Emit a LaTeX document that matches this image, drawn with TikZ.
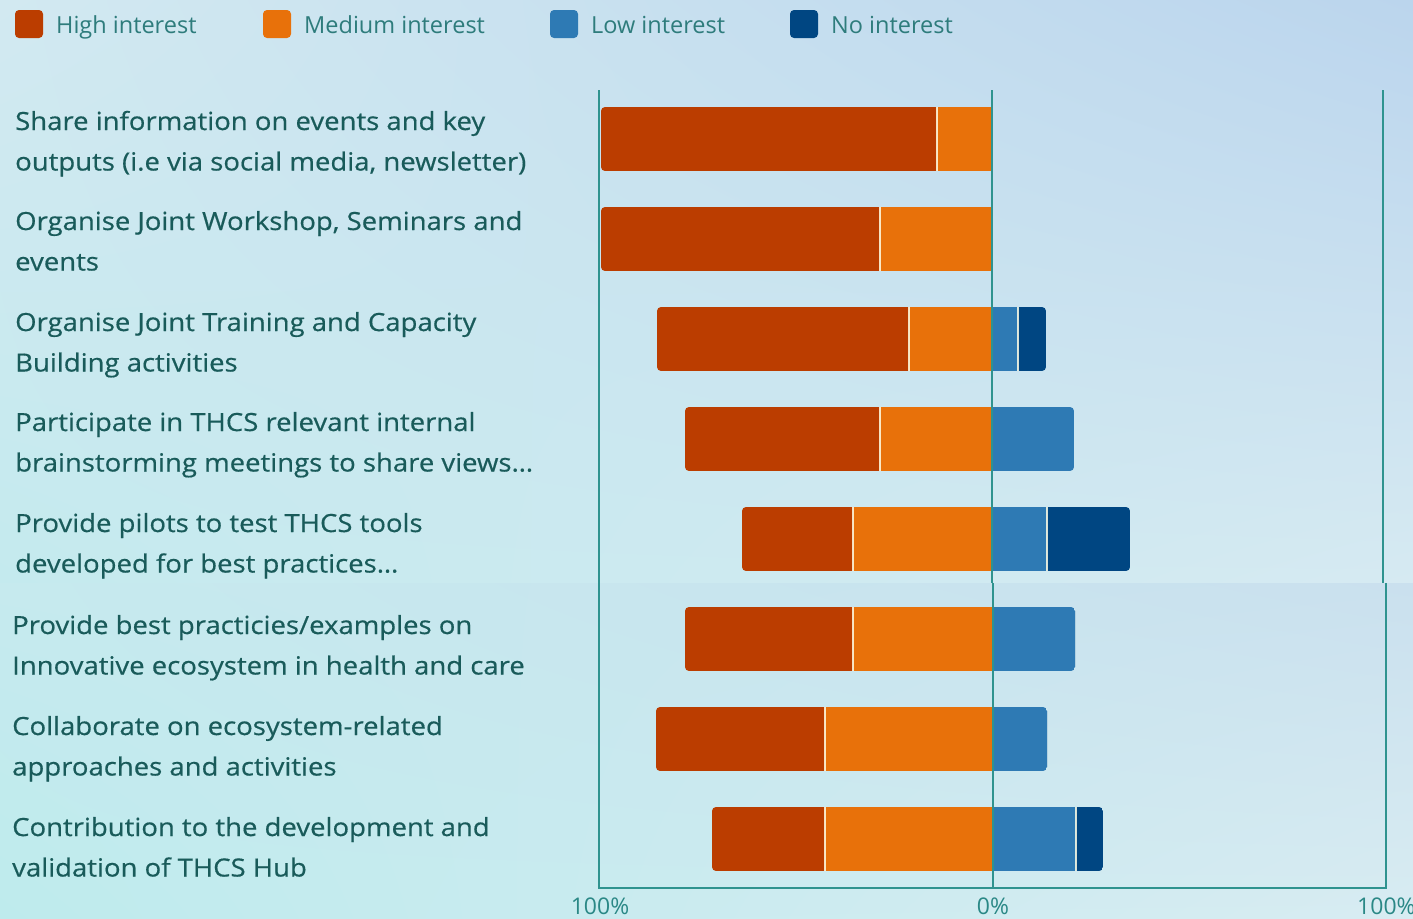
\documentclass[tikz,border=0pt]{standalone}
\usepackage{fontspec}
\usetikzlibrary{shadings}
\setmainfont{Open Sans}
\newfontfamily\lblfont{Open Sans}[FakeStretch=1.1,FakeBold=0.5]
\definecolor{hicol}{HTML}{BB3D00}
\definecolor{medcol}{HTML}{E8710A}
\definecolor{lowcol}{HTML}{2E7AB4}
\definecolor{nocol}{HTML}{004682}
\definecolor{axiscol}{HTML}{2F938F}
\definecolor{labcol}{HTML}{195B5A}
\definecolor{legcol}{HTML}{2E7C7C}
\definecolor{tickcol}{HTML}{2A8886}
\definecolor{bgA}{RGB}{210,233,241}
\definecolor{bgB}{RGB}{187,213,237}
\definecolor{bgC}{RGB}{196,234,238}
\definecolor{bgD}{RGB}{214,234,242}
\definecolor{bgE}{RGB}{198,234,238}
\definecolor{bgF}{RGB}{202,224,238}
\definecolor{bgG}{RGB}{190,235,237}
\definecolor{bgH}{RGB}{216,236,242}
\newcommand\lbltwo[2]{\vtop{\baselineskip=40.5pt\hbox{#1}\hbox{#2}}}
\newcommand\hbarrow[6]{%
  \pgfmathsetmacro\clipr{(#6>#4)?#6:#4+12}%
  \begin{scope}
    \clip[rounded corners=4] (#2,#1) rectangle (\clipr,#1+64);
    \fill[hicol] (#2,#1) rectangle (#3,#1+64);
    \fill[medcol] (#3,#1) rectangle (#4,#1+64);
    \fill[lowcol] (#4,#1) rectangle (#5,#1+64);
    \fill[nocol] (#5,#1) rectangle (#6,#1+64);
  \end{scope}
  \draw[sepline] (#3,#1) -- (#3,#1+64);
}
\begin{document}
\begin{tikzpicture}[x=1pt,y=-1pt,
  sepline/.style={draw=white!90!yellow,line width=1.3pt,opacity=0.85},
  axisline/.style={draw=axiscol,line width=1.4pt},
  rowlabel/.style={anchor=base west,inner sep=0pt,text=labcol,font=\lblfont\fontsize{25}{40}\selectfont},
  legtext/.style={anchor=base west,inner sep=0pt,text=legcol,font=\fontsize{23.5}{28}\selectfont},
  legkey/.style={rounded corners=4,line width=0pt},
  ticklabel/.style={anchor=base,inner sep=0pt,text=tickcol,font=\fontsize{23}{28}\selectfont}]
\useasboundingbox (0,0) rectangle (1413,918);
% backgrounds
\shade[upper left=bgA, upper right=bgB, lower left=bgC, lower right=bgD]
  (0,0) rectangle (1413,583);
\shade[upper left=bgE, upper right=bgF, lower left=bgG, lower right=bgH]
  (0,583) rectangle (1413,918);
% legend
\fill[hicol,legkey] (15,10) rectangle (43,38);
\node[legtext] (lhigh) at (56,33) {High interest};
\fill[medcol,legkey] (263,10) rectangle (291,38);
\node[legtext] (lmed) at (304,33) {Medium interest};
\fill[lowcol,legkey] (550,10) rectangle (578,38);
\node[legtext] (llow) at (591,33) {Low interest};
\fill[nocol,legkey] (790,10) rectangle (818,38);
\node[legtext] (lno) at (831,33) {No interest};
% labels
\node[rowlabel] (r1) at (15,130) {\lbltwo{Share information on events and key}{outputs (i.e via social media, newsletter)}};
\node[rowlabel] (r2) at (15,230) {\lbltwo{Organise Joint Workshop, Seminars and}{events}};
\node[rowlabel] (r3) at (15,331) {\lbltwo{Organise Joint Training and Capacity}{Building activities}};
\node[rowlabel] (r4) at (15,431) {\lbltwo{Participate in THCS relevant internal}{brainstorming meetings to share views…}};
\node[rowlabel] (r5) at (15,532) {\lbltwo{Provide pilots to test THCS tools}{developed for best practices…}};
\node[rowlabel] (r6) at (12,634) {\lbltwo{Provide best practicies/examples on}{Innovative ecosystem in health and care}};
\node[rowlabel] (r7) at (12,735) {\lbltwo{Collaborate on ecosystem-related}{approaches and activities}};
\node[rowlabel] (r8) at (12,836) {\lbltwo{Contribution to the development and}{validation of THCS Hub}};
% bars: top, left, high|med, zero, low end, no end
\hbarrow{107}{601}{937}{992}{992}{992}
\hbarrow{207}{601}{880}{992}{992}{992}
\hbarrow{307}{657}{909}{992}{1018}{1046}
\draw[sepline] (1018,307) -- (1018,371);
\hbarrow{407}{685}{880}{992}{1074}{1074}
\hbarrow{507}{742}{853}{992}{1047}{1130}
\draw[sepline] (1047,507) -- (1047,571);
\hbarrow{607}{685}{853}{993}{1075}{1075}
\hbarrow{707}{656}{825}{993}{1047}{1047}
\hbarrow{807}{712}{825}{993}{1076}{1103}
\draw[sepline] (1076,807) -- (1076,871);
% axes
\draw[axisline] (599,90) -- (599,583);
\draw[axisline] (992,90) -- (992,583);
\draw[axisline] (1383,90) -- (1383,583);
\draw[axisline] (599,583) -- (599,888) -- (1386,888) -- (1386,583);
\draw[axisline] (993,583) -- (993,888);
\node[ticklabel] (t0) at (600,914) {100\%};
\node[ticklabel] (t1) at (993,914) {0\%};
\node[ticklabel,anchor=base west] (t2) at (1357,914) {100\%};
\end{tikzpicture}
\end{document}
